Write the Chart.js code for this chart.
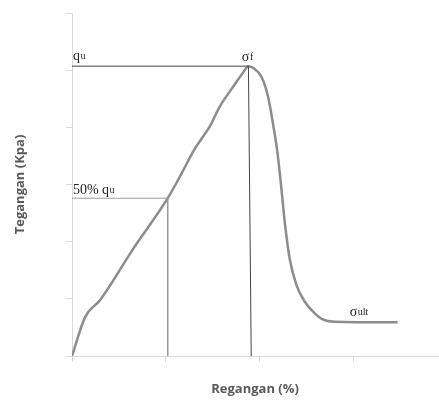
<!DOCTYPE html>
<html>
<head>
<meta charset="utf-8">
<script src="https://cdn.jsdelivr.net/npm/chart.js@4.4.1/dist/chart.umd.min.js"></script>
<style>
  html, body { margin: 0; padding: 0; background: #fff; }
  #wrap { width: 439px; height: 405px; }
</style>
</head>
<body>
<div id="wrap"><canvas id="stressChart"></canvas></div>
<script>
// strain (%) vs stress (kPa) in axis units
const strainValues = [0, 0.14, 0.30, 0.65, 1.02, 1.17, 1.30, 1.38, 1.47, 1.57, 1.73, 1.82, 1.88, 1.93, 2.02, 2.09, 2.14, 2.19, 2.23, 2.27, 2.32, 2.39, 2.48, 2.59, 2.66, 2.80, 3.47];
const stressValues = [0, 0.68, 0.98, 1.87, 2.76, 3.20, 3.60, 3.80, 4.02, 4.35, 4.74, 4.95, 5.07, 5.04, 4.88, 4.53, 4.08, 3.55, 2.95, 2.30, 1.70, 1.25, 0.95, 0.74, 0.65, 0.60, 0.59];

const quStress = 5.07;       // peak stress q_u
const peakStrain = 1.88;     // strain at sigma_f
const peakStrainBase = 1.91;
const halfQuStress = 2.76;   // 50% q_u
const halfQuStrain = 1.02;

const xTicks = [0, 1, 2, 3];
const yTicks = [0, 1, 2, 3, 4, 5, 6];

// text labels: main text, smaller suffix, anchor in axis units
const labelMain = ['q', 'σ', '50% q', 'σ'];
const labelSub = ['u', 'f', 'u', 'ult'];
const labelX = [0.01, 1.81, 0.01, 2.96];
const labelY = [5.18, 5.16, 2.83, 0.70];

const curve = strainValues.map((x, i) => ({ x, y: stressValues[i] }));

const labelPlugin = {
  id: 'curveLabels',
  afterDatasetsDraw(chart) {
    const { ctx, scales } = chart;
    ctx.save();
    ctx.fillStyle = '#222';
    ctx.textBaseline = 'alphabetic';
    labelMain.forEach((txt, i) => {
      const px = scales.x.getPixelForValue(labelX[i]);
      const py = scales.y.getPixelForValue(labelY[i]);
      ctx.font = '14px "Liberation Serif", serif';
      ctx.fillText(txt, px, py);
      const w = ctx.measureText(txt).width;
      ctx.font = '10px "Liberation Serif", serif';
      ctx.fillText(labelSub[i], px + w + 0.5, py - 1);
    });
    ctx.restore();
  }
};

const axisGray = '#d9d9d9';

new Chart(document.getElementById('stressChart'), {
  type: 'scatter',
  data: {
    datasets: [
      {
        data: [{ x: 0, y: quStress }, { x: peakStrain, y: quStress }],
        showLine: true, borderColor: '#444', borderWidth: 1, pointRadius: 0, tension: 0
      },
      {
        data: [{ x: peakStrain, y: quStress }, { x: peakStrainBase, y: 0 }],
        showLine: true, borderColor: '#444', borderWidth: 1, pointRadius: 0, tension: 0
      },
      {
        data: [{ x: 0, y: halfQuStress }, { x: halfQuStrain, y: halfQuStress }, { x: halfQuStrain, y: 0 }],
        showLine: true, borderColor: '#999', borderWidth: 1, pointRadius: 0, tension: 0
      },
      {
        data: curve,
        showLine: true, borderColor: '#8c8c8c', borderWidth: 2.5, pointRadius: 0,
        cubicInterpolationMode: 'monotone'
      }
    ]
  },
  options: {
    responsive: true,
    maintainAspectRatio: false,
    animation: false,
    layout: { padding: { top: 13, right: 1, left: 0, bottom: 0 } },
    plugins: { legend: { display: false }, tooltip: { enabled: false } },
    scales: {
      x: {
        type: 'linear', min: 0, max: 3.9,
        afterBuildTicks: (s) => { s.ticks = xTicks.map(v => ({ value: v })); },
        afterFit: (s) => { s.height = 49; },
        ticks: { display: false },
        grid: { drawOnChartArea: false, drawTicks: true, tickLength: 6, color: axisGray },
        border: { display: true, color: axisGray, width: 1 },
        title: {
          display: true, text: 'Regangan (%)', color: '#595959',
          font: { family: '"Open Sans", sans-serif', size: 13, weight: 'bold' },
          padding: { top: 0, bottom: 8 }
        }
      },
      y: {
        type: 'linear', min: 0, max: 6,
        afterBuildTicks: (s) => { s.ticks = yTicks.map(v => ({ value: v })); },
        afterFit: (s) => { s.width = 72; },
        ticks: { display: false },
        grid: { drawOnChartArea: false, drawTicks: true, tickLength: 6, color: axisGray },
        border: { display: true, color: axisGray, width: 1 },
        title: {
          display: true, text: 'Tegangan (Kpa)', color: '#595959',
          font: { family: '"Open Sans", sans-serif', size: 13, weight: 'bold' },
          padding: { top: 12, bottom: 0 }
        }
      }
    }
  },
  plugins: [labelPlugin]
});
</script>
</body>
</html>
